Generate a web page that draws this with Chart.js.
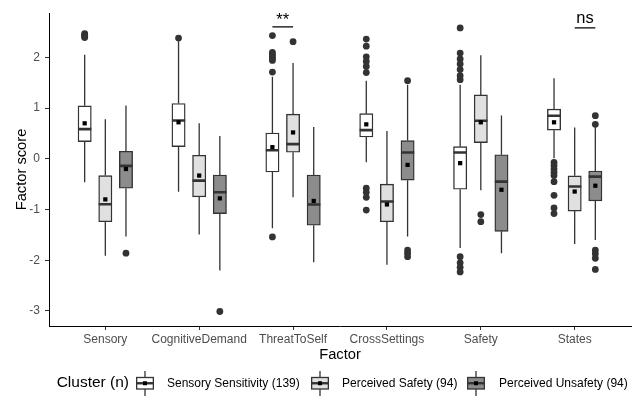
<!DOCTYPE html>
<html>
<head>
<meta charset="utf-8">
<script src="https://cdn.jsdelivr.net/npm/chart.js@4.4.1/dist/chart.umd.min.js"></script>
<style>
  html, body { margin: 0; padding: 0; background: #fff; }
  #wrap { position: relative; width: 635px; height: 396px; }
  #legend { position: absolute; left: 0; top: 371px; width: 635px; height: 25px;
            font-family: "Liberation Sans", Arial, sans-serif; color: #000; }
  #legend span, #legend svg { position: absolute; white-space: nowrap; }
  #legend span { top: 3px; line-height: 18px; font-size: 12px; }
  #legend .ttl { font-size: 15.5px; top: 2px; }
</style>
</head>
<body>
<div id="wrap">
  <canvas id="chart" width="635" height="396"></canvas>
  <div id="legend"></div>
</div>
<script>
// Factor scores by cluster, boxplot stats
const FACTORS = ["Sensory", "CognitiveDemand", "ThreatToSelf", "CrossSettings", "Safety", "States"];
const CLUSTERS = ["Sensory Sensitivity (139)", "Perceived Safety (94)", "Perceived Unsafety (94)"];
const FILLS = ["#FFFFFF", "#E0E0E0", "#8C8C8C"];
const Y_TICKS = [-3, -2, -1, 0, 1, 2];

// Sensory Sensitivity
const ssQ1   = [0.34, 0.24, -0.26, 0.43, -0.60, 0.565];
const ssMed  = [0.585, 0.755, 0.17, 0.565, 0.125, 0.85];
const ssQ3   = [1.045, 1.09, 0.51, 0.89, 0.24, 0.98];
const ssLo   = [-0.46, -0.65, -1.37, -0.07, -1.76, 0.01];
const ssHi   = [2.05, 2.32, 1.62, 1.54, 1.46, 1.59];
const ssMean = [0.70, 0.72, 0.23, 0.68, -0.085, 0.72];
const ssOut  = [
  [2.47, 2.45, 2.43, 2.41, 2.39],
  [2.38],
  [2.43, 2.10, 2.06, 2.02, 1.98, 1.94, 1.71, -1.54],
  [2.36, 2.22, 2.01, 1.92, 1.82, 1.70, -0.58, -0.66, -0.76, -1.01],
  [2.58, 2.085, 1.97, 1.87, 1.76, 1.64, 1.56, -1.93, -2.05, -2.14, -2.23],
  [-0.07, -0.13, -0.20, -0.27, -0.33, -0.45, -0.72, -0.97, -1.08],
];

// Perceived Safety
const psQ1   = [-1.24, -0.75, 0.13, -1.24, 0.32, -1.03];
const psMed  = [-0.895, -0.43, 0.29, -0.84, 0.75, -0.545];
const psQ3   = [-0.33, 0.07, 0.88, -0.50, 1.26, -0.335];
const psLo   = [-1.91, -1.49, -0.76, -2.09, -0.62, -1.68];
const psHi   = [0.78, 0.70, 1.89, 0.55, 2.04, 0.62];
const psMean = [-0.80, -0.33, 0.52, -0.90, 0.72, -0.645];
const psOut  = [[], [], [2.31], [], [-1.10, -1.24], []];

// Perceived Unsafety
const puQ1   = [-0.58, -1.08, -1.31, -0.42, -1.43, -0.83];
const puMed  = [-0.14, -0.66, -0.90, 0.125, -0.45, -0.35];
const puQ3   = [0.15, -0.32, -0.32, 0.36, 0.08, -0.24];
const puLo   = [-1.53, -2.20, -2.04, -1.53, -1.86, -1.60];
const puHi   = [1.05, 0.45, 0.625, 1.46, 0.855, 0.625];
const puMean = [-0.20, -0.78, -0.83, -0.12, -0.61, -0.53];
const puOut  = [[-1.86], [-3.01], [], [1.54, -1.80, -1.86, -1.93], [], [0.85, 0.68, -1.80, -1.87, -1.96, -2.18]];

// significance brackets: factor, pair of clusters, label
const SIG_FACTOR = [3, 6];
const SIG_PAIR   = [[0, 1], [1, 2]];
const SIG_LABEL  = ["**", "ns"];
const SIG_LINE_Y = [2.60, 2.58];
const SIG_TEXT_Y = [2.64, 2.67];

const Q1 = [ssQ1, psQ1, puQ1], MED = [ssMed, psMed, puMed], Q3 = [ssQ3, psQ3, puQ3];
const LO = [ssLo, psLo, puLo], HI = [ssHi, psHi, puHi], MEAN = [ssMean, psMean, puMean];
const OUT = [ssOut, psOut, puOut];

const FONT = '"Liberation Sans", Arial, sans-serif';
const INK = "#333333";
const DODGE = [-0.22, 0, 0.22];
const BOX_PX = 13.3;
const HALF_W = 0.0706;   // half box width in x units

const xAt = (c, i) => i + 1 + DODGE[c];

const boxSets = CLUSTERS.map((name, c) => ({
  type: "bar",
  label: name,
  stack: "box",
  order: 3,
  data: FACTORS.map((_, i) => ({ x: xAt(c, i), y: [Q1[c][i], Q3[c][i]] })),
  backgroundColor: FILLS[c],
  borderColor: INK,
  borderWidth: 1.4,
  borderSkipped: false,
  barThickness: BOX_PX,
}));

const whiskerPts = [];
const medianPts = [];
const outlierPts = [];
const meanPts = [];
CLUSTERS.forEach((_, c) => {
  FACTORS.forEach((_, i) => {
    const x = xAt(c, i);
    whiskerPts.push({ x, y: Q3[c][i] }, { x, y: HI[c][i] }, { x, y: null });
    whiskerPts.push({ x, y: Q1[c][i] }, { x, y: LO[c][i] }, { x, y: null });
    medianPts.push({ x: x - HALF_W, y: MED[c][i] }, { x: x + HALF_W, y: MED[c][i] }, { x, y: null });
    meanPts.push({ x, y: MEAN[c][i] });
    OUT[c][i].forEach(v => outlierPts.push({ x, y: v }));
  });
});

const sigPts = [];
SIG_FACTOR.forEach((f, k) => {
  const [a, b] = SIG_PAIR[k];
  sigPts.push({ x: xAt(a, f - 1), y: SIG_LINE_Y[k] }, { x: xAt(b, f - 1), y: SIG_LINE_Y[k] }, { x: f, y: null });
});

const sigText = {
  id: "sigText",
  afterDatasetsDraw(chart) {
    const { ctx, scales: { x, y } } = chart;
    ctx.save();
    ctx.fillStyle = "#000";
    ctx.font = "16.5px " + FONT;
    ctx.textAlign = "center";
    ctx.textBaseline = "alphabetic";
    SIG_FACTOR.forEach((f, k) => {
      const [a, b] = SIG_PAIR[k];
      const mid = (xAt(a, f - 1) + xAt(b, f - 1)) / 2;
      ctx.fillText(SIG_LABEL[k], x.getPixelForValue(mid), y.getPixelForValue(SIG_TEXT_Y[k]));
    });
    ctx.restore();
  },
};

const axisGrid = { display: true, drawOnChartArea: false, drawTicks: true, tickLength: 4, tickWidth: 1, tickColor: INK, offset: false };

new Chart(document.getElementById("chart"), {
  type: "bar",
  data: {
    datasets: [
      { type: "scatter", data: meanPts, order: 0, pointStyle: "rect", pointRadius: 3, backgroundColor: "#000", borderWidth: 0 },
      { type: "line", data: medianPts, order: 1, borderColor: INK, borderWidth: 2.6, borderCapStyle: "butt", pointRadius: 0, spanGaps: false },
      { type: "scatter", data: outlierPts, order: 2, pointRadius: 3.4, backgroundColor: INK, borderWidth: 0 },
      ...boxSets,
      { type: "line", data: whiskerPts, order: 4, borderColor: INK, borderWidth: 1.3, pointRadius: 0, spanGaps: false },
      { type: "line", data: sigPts, order: 5, borderColor: "#000", borderWidth: 1.2, pointRadius: 0, spanGaps: false },
    ],
  },
  options: {
    responsive: false,
    animation: false,
    layout: { padding: { top: 13, right: 2, bottom: 30, left: 0 } },
    plugins: { legend: { display: false }, tooltip: { enabled: false } },
    scales: {
      x: {
        type: "linear",
        min: 0.4,
        max: 6.6,
        offset: false,
        afterBuildTicks: s => { s.ticks = FACTORS.map((_, i) => ({ value: i + 1 })); },
        afterFit: s => { s.height = 40; },
        ticks: { callback: v => FACTORS[v - 1], color: "#4D4D4D", font: { family: FONT, size: 12 }, padding: 2, autoSkip: false, maxRotation: 0 },
        grid: axisGrid,
        border: { display: true, color: "#000", width: 1 },
        title: { display: true, text: "Factor", color: "#000", font: { family: FONT, size: 14.7, lineHeight: 1.2 }, padding: { top: 0, bottom: 2 } },
      },
      y: {
        type: "linear",
        min: -3.296,
        max: 2.875,
        stacked: false,
        afterBuildTicks: s => { s.ticks = Y_TICKS.map(v => ({ value: v })); },
        afterFit: s => { s.width = 49; },
        ticks: { callback: v => String(v), color: "#4D4D4D", font: { family: FONT, size: 12 }, padding: 5 },
        grid: axisGrid,
        border: { display: true, color: "#000", width: 1 },
        title: { display: true, text: "Factor score", color: "#000", font: { family: FONT, size: 14.7, lineHeight: 1.2 }, padding: { top: 13, bottom: 0 } },
      },
    },
  },
  plugins: [sigText],
});

// legend row: title + boxplot keys
const legend = document.getElementById("legend");
const LEG_TITLE_RIGHT = 506;   // distance of the title's right edge from the page's right edge
const LEG_KEY_X = [136, 311, 467];
const LEG_TEXT_X = [167, 342, 499];
legend.innerHTML = `<span class="ttl" style="right:${LEG_TITLE_RIGHT}px">Cluster (n)</span>` +
  CLUSTERS.map((name, c) =>
    `<svg style="left:${LEG_KEY_X[c]}px;top:0" width="18" height="25" viewBox="0 0 18 25">
       <line x1="9" y1="0" x2="9" y2="25" stroke="${INK}" stroke-width="1.3"/>
       <rect x="0.65" y="6.5" width="16.7" height="11.5" fill="${FILLS[c]}" stroke="${INK}" stroke-width="1.3"/>
       <line x1="0.65" y1="12.25" x2="17.35" y2="12.25" stroke="${INK}" stroke-width="2.4"/>
       <rect x="7" y="10.25" width="4" height="4" fill="#000"/>
     </svg><span style="left:${LEG_TEXT_X[c]}px">${name}</span>`).join("");
</script>
</body>
</html>
